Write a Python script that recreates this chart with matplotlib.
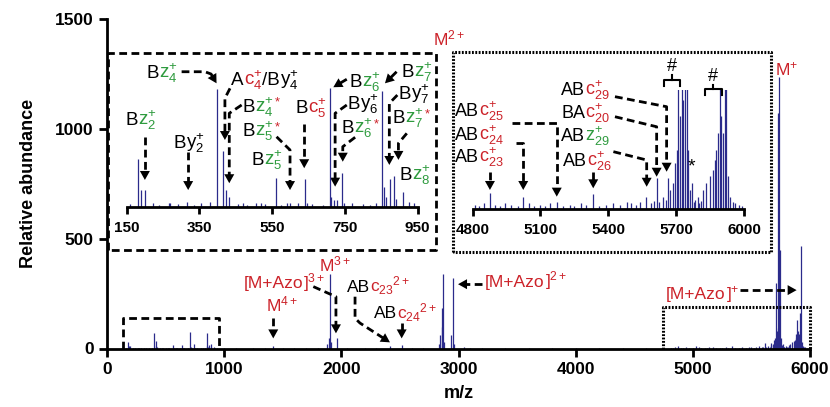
import numpy as np
import matplotlib
matplotlib.use('Agg')
import matplotlib.pyplot as plt
from matplotlib.patches import Polygon

plt.rcParams['font.family'] = ['Liberation Sans', 'DejaVu Sans']
plt.rcParams['mathtext.fontset'] = 'custom'
plt.rcParams['mathtext.rm'] = 'Liberation Sans'
plt.rcParams['mathtext.it'] = 'Liberation Sans:italic'
plt.rcParams['mathtext.bf'] = 'Liberation Sans:bold'

SPEC = '#2b2b8b'
RED = '#cc2229'
GREEN = '#2e9b3e'
W, H = 830, 407

# --- peaks (m/z, relative abundance) ---
# fragment region 150-950 (shown magnified in left inset)
frag_mz = [182, 188, 200, 222, 270, 317, 380, 398, 415, 422, 430, 470, 520,
           561, 590, 600, 640, 645, 708, 713, 720, 728, 741, 748,
           853, 857, 862, 873, 885, 890, 910, 925, 940]
frag_int = [29, 10, 10, 2, 2, 3, 3, 72, 34, 10, 6, 2, 2,
            17.5, 2, 2.5, 17, 2, 73, 6, 4, 4, 20.5, 2,
            71, 12, 6, 17, 19, 5, 9, 3, 2]

# multiply charged precursor region
mid_mz = [1420, 1880, 1895, 1903, 1910, 1966, 2415, 2514,
          2830, 2845, 2855, 2862, 2870, 2880, 2940, 2955, 2965, 3050]
mid_int = [12, 20, 50, 338, 30, 46, 10, 17,
           20, 60, 185, 100, 341, 30, 60, 322, 20, 8]

# high m/z region 4800-6000 (shown magnified in right inset)
high_mz = [4877, 5024, 5171, 5333, 5568, 5615, 5642, 5664, 5671, 5686, 5693,
           5701, 5708, 5715, 5723, 5730, 5737, 5745, 5752, 5759, 5767, 5781,
           5796, 5818, 5833, 5848, 5862, 5870, 5877, 5884, 5892, 5899, 5906,
           5914, 5921, 5928, 5936, 5950]
high_int = [13.4, 10.7, 6.5, 12.9, 10.7, 26, 10.7, 26, 16, 22, 39,
            50, 300, 78, 1075, 92, 1235, 450, 50, 16, 22, 8,
            10, 16, 22, 28, 33, 41, 50, 64, 130, 78, 64,
            160, 467, 28, 10, 6]

# baseline noise
noise_mz = [160, 240, 265, 290, 335, 355, 455, 480, 505, 530, 575, 620, 660,
            690, 770, 800, 820, 835, 1000, 1100, 1250, 1350, 1500, 1600,
            1700, 1800, 2050, 2200, 2300, 2600, 2700, 3100, 3200, 3400,
            3600, 3800, 4000, 4200, 4400, 4600, 4810, 4830, 4850, 4900,
            4920, 4945, 4970, 5000, 5050, 5070, 5100, 5120, 5140, 5200,
            5230, 5250, 5280, 5300, 5360, 5390, 5420, 5450, 5480, 5500,
            5520, 5540, 5590, 5600, 5625, 5655, 5780, 5800, 5810, 5960,
            5975, 5990]
noise_int = [1.5, 1, 2, 1.5, 1, 2, 1.5, 1, 2, 1.5, 1, 2, 1.5,
             1, 2, 1.5, 1, 2, 2, 3, 2, 3, 2, 3,
             2, 4, 3, 2, 3, 2, 4, 3, 2, 3,
             2, 3, 2, 3, 2, 3, 4, 3, 5, 4,
             3, 5, 4, 3, 5, 3, 4, 3, 5, 3,
             4, 3, 5, 4, 3, 4, 5, 4, 6, 5,
             4, 6, 5, 7, 6, 8, 6, 5, 7, 5,
             4, 3]

mz = np.array(frag_mz + mid_mz + high_mz + noise_mz, dtype=float)
inten = np.array(frag_int + mid_int + high_int + noise_int, dtype=float)


def frame(x0, y0, x1, y1):
    # pixel box (from top-left) -> figure fraction
    return [x0 / W, 1 - y1 / H, (x1 - x0) / W, (y1 - y0) / H]


fig = plt.figure(figsize=(W / 100, H / 100), dpi=100)
renderer = fig.canvas.get_renderer()


def ion(letter, sub='', sup=''):
    s = letter
    if sub:
        s += '_{%s}' % sub
    if sup:
        s += '^{%s}' % sup
    return r'$\mathregular{%s}$' % s


STAR = r'$\mathregular{{}^{*}}$'


def rich(ax, x, y, parts, size=13.5):
    # parts: list of (text, color) drawn one after another on one baseline
    px, py = ax.transData.transform((x, y))
    for text, color in parts:
        t = fig.text(px / W, py / H, text, color=color, size=size,
                     ha='left', va='baseline')
        px += t.get_window_extent(renderer).width


def arrow(ax, xs, ys, ls=(0, (2.8, 1.6)), head=9, half=5):
    pts = ax.transData.transform(np.column_stack([xs, ys]))
    tip, prev = pts[-1], pts[-2]
    d = (tip - prev) / np.hypot(*(tip - prev))
    n = np.array([-d[1], d[0]])
    base = tip - d * head
    line = ax.transData.inverted().transform(np.vstack([pts[:-1], base + d]))
    ax.plot(line[:, 0], line[:, 1], color='k', lw=2, ls=ls, clip_on=False,
            solid_capstyle='butt', dash_capstyle='butt')
    tri = ax.transData.inverted().transform(
        np.array([tip, base + n * half, base - n * half]))
    ax.add_patch(Polygon(tri, closed=True, facecolor='k', lw=0, clip_on=False))


def style_inset(a, lo, hi, top, ticks):
    a.patch.set_alpha(0)
    a.vlines(mz, 0, inten, color=SPEC, lw=0.9)
    a.set_xlim(lo, hi)
    a.set_ylim(0, top)
    a.set_xticks(ticks)
    a.set_yticks([])
    for s in ['top', 'right', 'left']:
        a.spines[s].set_visible(False)
    a.spines['bottom'].set_linewidth(2)
    a.tick_params(direction='out', length=5, width=2, labelsize=11, pad=5)
    for t in a.get_xticklabels():
        t.set_fontweight('bold')


# ---------------- main spectrum ----------------
ax = fig.add_axes(frame(107, 19.3, 810, 348.5))
ax.vlines(mz, 0, inten, color=SPEC, lw=0.9)
ax.set_xlim(0, 6000)
ax.set_ylim(0, 1500)
ax.set_xticks(range(0, 6001, 1000))
ax.set_yticks([0, 500, 1000, 1500])
for s in ['top', 'right']:
    ax.spines[s].set_visible(False)
for s in ['left', 'bottom']:
    ax.spines[s].set_linewidth(2)
ax.tick_params(direction='out', length=6, width=2, labelsize=12.5)
for t in ax.get_xticklabels() + ax.get_yticklabels():
    t.set_fontweight('bold')
ax.set_xlabel('m/z', fontsize=13, fontweight='bold')
ax.set_ylabel('Relative abundance', fontsize=13, fontweight='bold')
ax.xaxis.set_label_coords(0.5, -0.111)
ax.yaxis.set_label_coords(-0.1, 0.5)

# zoom boxes
dash = (0, (2.8, 1.6))
dots = (0, (0.6, 0.5))
ax.plot([11, 11, 2808, 2808, 11], [449, 1345, 1345, 449, 449], color='k', lw=2, ls=dash, clip_on=False)
ax.plot([2950, 2950, 5665, 5665, 2950], [441, 1352, 1352, 441, 441], color='k', lw=2.2, ls=dots, clip_on=False)
ax.plot([134, 134, 958, 958], [0, 138, 138, 0], color='k', lw=2, ls=dash)
ax.plot([4742, 4742, 6000, 6000], [0, 188, 188, 0], color='k', lw=2.2, ls=dots, clip_on=False)

# main annotations
ms = 12.5
rich(ax, 2782, 1383, [(ion('M', sup='2+'), RED)], ms)
rich(ax, 5700, 1246, [(ion('M', sup='+'), RED)], ms)
rich(ax, 1812, 353, [(ion('M', sup='3+'), RED)], ms)
rich(ax, 1163, 274, [('[M+Azo', RED), (ion(']', sup='3+'), RED)], ms)
rich(ax, 1357, 168, [(ion('M', sup='4+'), RED)], ms)
rich(ax, 2051, 259, [('AB', 'k'), (ion('c', '23', '') + ion('{}', sup='2+'), RED)], ms)
rich(ax, 2279, 138, [('AB', 'k'), (ion('c', '24', '') + ion('{}', sup='2+'), RED)], ms)
rich(ax, 3226, 282, [('[M+Azo', RED), (ion(']', sup='2+'), RED)], ms)
rich(ax, 4771, 225, [('[M+Azo', RED), (ion(']', sup='+'), RED)], ms)

arrow(ax, [1761, 1954, 1954], [282, 236, 69])
arrow(ax, [1419, 1419], [138, 46])
arrow(ax, [2117, 2117, 2159, 2415], [236, 138, 116, 28])
arrow(ax, [2515, 2515], [115, 46])
arrow(ax, [3200, 2996], [293, 293])
arrow(ax, [5402, 5886], [266, 266])

# ---------------- left inset: 150-950 ----------------
a1 = fig.add_axes(frame(126.7, 60, 417.7, 206.7))
style_inset(a1, 150, 950, 90, [150, 350, 550, 750, 950])

rich(a1, 148, 50.1, [('B', 'k'), (ion('z', '2', '+'), GREEN)])
rich(a1, 278, 36, [('B', 'k'), (ion('y', '2', '+'), 'k')])
rich(a1, 205, 78.8, [('B', 'k'), (ion('z', '4', '+'), GREEN)])
rich(a1, 437, 74.7, [('A', 'k'), (ion('c', '4', '+'), RED), ('/B', 'k'), (ion('y', '4', '+'), 'k')])
rich(a1, 469, 58.3, [('B', 'k'), (ion('z', '4', '+'), GREEN), (STAR, RED)])
rich(a1, 469, 43.4, [('B', 'k'), (ion('z', '5', '+'), GREEN), (STAR, RED)])
rich(a1, 492, 25.6, [('B', 'k'), (ion('z', '5', '+'), GREEN)])
rich(a1, 615, 57.3, [('B', 'k'), (ion('c', '5', '+'), RED)])
rich(a1, 762, 73.6, [('B', 'k'), (ion('z', '6', '+'), GREEN)])
rich(a1, 906, 79.8, [('B', 'k'), (ion('z', '7', '+'), GREEN)])
rich(a1, 757, 59.8, [('B', 'k'), (ion('y', '6', '+'), 'k')])
rich(a1, 741, 45, [('B', 'k'), (ion('z', '6', '+'), GREEN), (STAR, RED)])
rich(a1, 897, 65.9, [('B', 'k'), (ion('y', '7', '+'), 'k')])
rich(a1, 881, 51.2, [('B', 'k'), (ion('z', '7', '+'), GREEN), (STAR, RED)])
rich(a1, 899, 16.4, [('B', 'k'), (ion('z', '8', '+'), GREEN)])

arrow(a1, [200, 200], [43, 16.4])
arrow(a1, [319, 319], [33.7, 10.2])
arrow(a1, [301, 365, 382, 397], [82.8, 82.8, 81.4, 75.7])
arrow(a1, [434, 420, 420], [72.6, 66.5, 40.9])
arrow(a1, [466, 432, 432], [62.4, 57.3, 14.4])
arrow(a1, [562, 599, 599], [42.9, 34.8, 10.2])
arrow(a1, [638, 638], [50.7, 23.6])
arrow(a1, [755, 718], [78.2, 73.3], ls='-')
arrow(a1, [892, 860], [82.8, 75.7], ls='-')
arrow(a1, [755, 723, 723], [62.4, 57.3, 12.3])
arrow(a1, [778, 744, 744], [42.6, 36.8, 27.6])
arrow(a1, [894, 872, 872], [68.5, 63.4, 25.6])
arrow(a1, [920, 897, 897], [45, 38.9, 28.7])

# ---------------- right inset: 4800-6000 ----------------
a2 = fig.add_axes(frame(472.5, 90, 744.3, 209.3))
style_inset(a2, 4800, 6000, 100, [4800, 5100, 5400, 5700, 6000])

ls2 = 13
rich(a2, 4723, 78.5, [('AB', 'k'), (ion('c', '25', '+'), RED)], ls2)
rich(a2, 4723, 58.5, [('AB', 'k'), (ion('c', '24', '+'), RED)], ls2)
rich(a2, 4723, 39.5, [('AB', 'k'), (ion('c', '23', '+'), RED)], ls2)
rich(a2, 5191, 96, [('AB', 'k'), (ion('c', '29', '+'), RED)], ls2)
rich(a2, 5191, 76.5, [('BA', 'k'), (ion('c', '20', '+'), RED)], ls2)
rich(a2, 5191, 57.5, [('AB', 'k'), (ion('z', '29', '+'), GREEN)], ls2)
rich(a2, 5201, 36.5, [('AB', 'k'), (ion('c', '26', '+'), RED)], ls2)

arrow(a2, [4973, 5172, 5172], [72.6, 72.6, 10.6])
arrow(a2, [4992, 5024, 5024], [55.8, 55.8, 16.2])
arrow(a2, [4877, 4877], [31.5, 16.2])
arrow(a2, [5429, 5657, 5657], [94.4, 86, 31.5])
arrow(a2, [5429, 5613, 5613], [77.6, 69.2, 27.3])
arrow(a2, [5422, 5569, 5569], [48.3, 41.3, 18.9])
arrow(a2, [5333, 5333], [31, 17.6])

for x0, x1, ytop in [(5645, 5716, 108.4), (5826, 5900, 100.6)]:
    xc = (x0 + x1) / 2
    a2.plot([x0, x0, x1, x1], [ytop - 5, ytop, ytop, ytop - 5], color='k', lw=1.5, clip_on=False)
    a2.plot([xc, xc], [ytop, ytop + 4], color='k', lw=1.5, clip_on=False)
    a2.text(xc, ytop + 4, '#', ha='center', va='bottom', fontsize=13)
a2.text(5768, 35.7, '*', ha='center', va='center', fontsize=14)

fig.savefig('out.png', dpi=100)
